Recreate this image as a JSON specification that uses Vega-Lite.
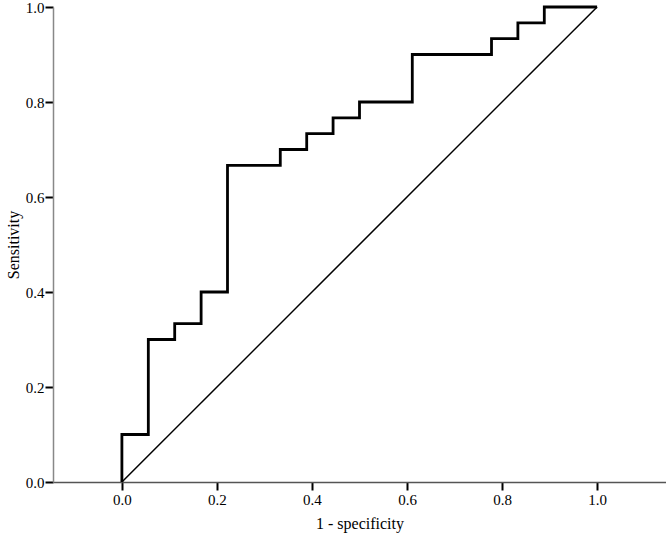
{
  "$schema": "https://vega.github.io/schema/vega-lite/v6.json",
  "autosize": "none",
  "width": 613,
  "height": 475,
  "padding": {"left": 53, "top": 7, "right": 0, "bottom": 55},
  "background": "white",
  "config": {"view": {"stroke": null}, "font": "Liberation Serif"},
  "datasets": {
    "roc": [
      {"i": 0, "fpr": 0, "tpr": 0},
      {"i": 1, "fpr": 0, "tpr": 0.1},
      {"i": 2, "fpr": 0.0556, "tpr": 0.1},
      {"i": 3, "fpr": 0.0556, "tpr": 0.3},
      {"i": 4, "fpr": 0.1111, "tpr": 0.3},
      {"i": 5, "fpr": 0.1111, "tpr": 0.3333},
      {"i": 6, "fpr": 0.1667, "tpr": 0.3333},
      {"i": 7, "fpr": 0.1667, "tpr": 0.4},
      {"i": 8, "fpr": 0.2222, "tpr": 0.4},
      {"i": 9, "fpr": 0.2222, "tpr": 0.6667},
      {"i": 10, "fpr": 0.3333, "tpr": 0.6667},
      {"i": 11, "fpr": 0.3333, "tpr": 0.7},
      {"i": 12, "fpr": 0.3889, "tpr": 0.7},
      {"i": 13, "fpr": 0.3889, "tpr": 0.7333},
      {"i": 14, "fpr": 0.4444, "tpr": 0.7333},
      {"i": 15, "fpr": 0.4444, "tpr": 0.7667},
      {"i": 16, "fpr": 0.5, "tpr": 0.7667},
      {"i": 17, "fpr": 0.5, "tpr": 0.8},
      {"i": 18, "fpr": 0.6111, "tpr": 0.8},
      {"i": 19, "fpr": 0.6111, "tpr": 0.9},
      {"i": 20, "fpr": 0.7778, "tpr": 0.9},
      {"i": 21, "fpr": 0.7778, "tpr": 0.9333},
      {"i": 22, "fpr": 0.8333, "tpr": 0.9333},
      {"i": 23, "fpr": 0.8333, "tpr": 0.9667},
      {"i": 24, "fpr": 0.8889, "tpr": 0.9667},
      {"i": 25, "fpr": 0.8889, "tpr": 1.0},
      {"i": 26, "fpr": 1.0, "tpr": 1.0}
    ],
    "diag": [
      {"i": 0, "fpr": 0, "tpr": 0},
      {"i": 1, "fpr": 1, "tpr": 1}
    ]
  },
  "layer": [
    {
      "data": {"name": "diag"},
      "mark": {"type": "line", "color": "black", "strokeWidth": 1.5},
      "encoding": {
        "x": {
          "field": "fpr", "type": "quantitative",
          "scale": {"domain": [-0.145, 1.145], "nice": false, "zero": false},
          "axis": {
            "title": "1 -  specificity", "values": [0, 0.2, 0.4, 0.6, 0.8, 1.0], "format": ".1f",
            "grid": false, "domainColor": "#555", "domainWidth": 1.5, "tickColor": "black", "tickWidth": 2, "tickSize": 8,
            "labelFont": "Liberation Serif", "labelFontSize": 15, "labelColor": "black", "labelPadding": 2,
            "titleFont": "Liberation Serif", "titleFontSize": 16, "titleFontWeight": "normal", "titleColor": "black", "titlePadding": 8
          }
        },
        "y": {
          "field": "tpr", "type": "quantitative",
          "scale": {"domain": [0, 1], "nice": false},
          "axis": {
            "title": "Sensitivity", "values": [0, 0.2, 0.4, 0.6, 0.8, 1.0], "format": ".1f",
            "grid": false, "domainColor": "#888", "domainWidth": 1.5, "tickColor": "black", "tickWidth": 2, "tickSize": 8,
            "labelFont": "Liberation Serif", "labelFontSize": 15, "labelColor": "black", "labelPadding": 1,
            "titleFont": "Liberation Serif", "titleFontSize": 16, "titleFontWeight": "normal", "titleColor": "black", "titlePadding": 4
          }
        },
        "order": {"field": "i", "type": "quantitative"}
      }
    },
    {
      "data": {"name": "roc"},
      "mark": {"type": "line", "color": "black", "strokeWidth": 2.8, "strokeJoin": "miter", "strokeCap": "butt"},
      "encoding": {
        "x": {"field": "fpr", "type": "quantitative"},
        "y": {"field": "tpr", "type": "quantitative"},
        "order": {"field": "i", "type": "quantitative"}
      }
    }
  ]
}
